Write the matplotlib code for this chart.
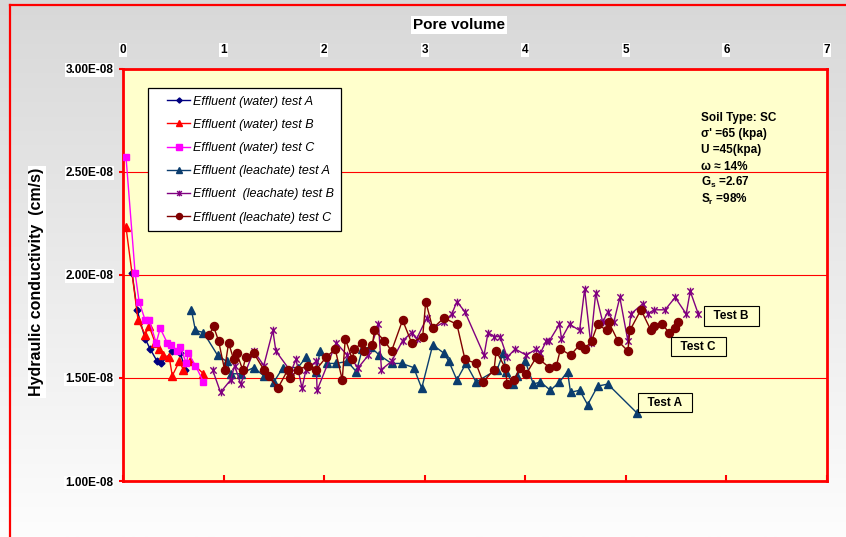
import numpy as np
import matplotlib
matplotlib.use('Agg')
import matplotlib.pyplot as plt
from matplotlib.path import Path
from matplotlib.lines import Line2D
from matplotlib.colors import LinearSegmentedColormap
from matplotlib.ticker import FuncFormatter
from matplotlib.font_manager import FontProperties
from matplotlib.legend_handler import HandlerLine2D

# ---------------- data (hydraulic conductivity in units of 1e-8 cm/s) ----------------
water_a_pv = [0.09, 0.14, 0.22, 0.27, 0.34, 0.38, 0.49, 0.57, 0.62]
water_a_k = [2.01, 1.83, 1.69, 1.64, 1.58, 1.57, 1.63, 1.62, 1.54]

water_b_pv = [0.03, 0.15, 0.22, 0.26, 0.32, 0.36, 0.40, 0.46, 0.49, 0.56, 0.60, 0.67, 0.80]
water_b_k = [2.23, 1.78, 1.71, 1.75, 1.67, 1.64, 1.61, 1.60, 1.51, 1.58, 1.54, 1.58, 1.52]

water_c_pv = [0.03, 0.12, 0.16, 0.22, 0.26, 0.33, 0.37, 0.44, 0.48, 0.54, 0.57, 0.63, 0.65, 0.72, 0.80]
water_c_k = [2.57, 2.01, 1.87, 1.78, 1.78, 1.67, 1.74, 1.67, 1.66, 1.63, 1.65, 1.57, 1.62, 1.56, 1.48]

leach_a_pv = [0.68, 0.72, 0.80, 0.94, 1.03, 1.07, 1.17, 1.30, 1.40, 1.50,
              1.59, 1.74, 1.82, 1.92, 1.96, 2.03, 2.12, 2.23, 2.32, 2.38,
              2.46, 2.55, 2.67, 2.77, 2.89, 2.97, 3.08, 3.19, 3.24, 3.32,
              3.41, 3.51, 3.72, 3.78, 3.81, 3.88, 3.92, 4.00, 4.08, 4.15,
              4.25, 4.34, 4.42, 4.45, 4.54, 4.62, 4.72, 4.82, 5.11]
leach_a_k = [1.83, 1.73, 1.72, 1.61, 1.58, 1.52, 1.52, 1.55, 1.51, 1.48,
             1.55, 1.55, 1.60, 1.53, 1.63, 1.57, 1.57, 1.58, 1.53, 1.64,
             1.65, 1.61, 1.57, 1.57, 1.55, 1.45, 1.66, 1.62, 1.58, 1.49,
             1.57, 1.48, 1.54, 1.62, 1.53, 1.47, 1.51, 1.58, 1.47, 1.48,
             1.44, 1.48, 1.53, 1.43, 1.44, 1.37, 1.46, 1.47, 1.33]

leach_b_pv = [0.89, 0.97, 1.07, 1.11, 1.17, 1.30, 1.40, 1.49, 1.52, 1.67,
              1.72, 1.78, 1.82, 1.92, 1.93, 2.12, 2.23, 2.34, 2.44, 2.54,
              2.57, 2.67, 2.78, 2.87, 2.92, 3.02, 3.08, 3.19, 3.27, 3.32,
              3.40, 3.59, 3.63, 3.69, 3.75, 3.82, 3.90, 4.01, 4.11, 4.15,
              4.21, 4.24, 4.34, 4.36, 4.44, 4.54, 4.59, 4.65, 4.70, 4.77,
              4.82, 4.88, 4.94, 5.02, 5.05, 5.17, 5.22, 5.28, 5.39, 5.49,
              5.60, 5.64, 5.72]
leach_b_k = [1.54, 1.43, 1.49, 1.56, 1.47, 1.63, 1.56, 1.73, 1.63, 1.53,
             1.59, 1.45, 1.54, 1.58, 1.44, 1.67, 1.61, 1.55, 1.61, 1.76,
             1.54, 1.58, 1.68, 1.72, 1.69, 1.79, 1.74, 1.77, 1.81, 1.87,
             1.82, 1.61, 1.72, 1.70, 1.70, 1.60, 1.64, 1.61, 1.64, 1.62,
             1.68, 1.68, 1.76, 1.69, 1.76, 1.73, 1.93, 1.67, 1.91, 1.77,
             1.82, 1.77, 1.89, 1.68, 1.81, 1.86, 1.81, 1.83, 1.83, 1.89,
             1.81, 1.92, 1.81]

leach_c_pv = [0.86, 0.90, 0.95, 1.01, 1.05, 1.10, 1.13, 1.19, 1.22, 1.30,
              1.40, 1.45, 1.54, 1.64, 1.66, 1.74, 1.84, 1.92, 2.02, 2.11,
              2.18, 2.21, 2.28, 2.30, 2.38, 2.40, 2.48, 2.50, 2.60, 2.67,
              2.78, 2.87, 2.98, 3.01, 3.08, 3.19, 3.32, 3.40, 3.51, 3.58,
              3.69, 3.71, 3.80, 3.82, 3.89, 3.95, 4.01, 4.11, 4.14, 4.24,
              4.31, 4.35, 4.45, 4.54, 4.59, 4.66, 4.72, 4.81, 4.83, 4.92,
              5.02, 5.04, 5.15, 5.25, 5.28, 5.36, 5.43, 5.49, 5.52]
leach_c_k = [1.71, 1.75, 1.68, 1.54, 1.67, 1.59, 1.62, 1.54, 1.60, 1.62,
             1.54, 1.51, 1.45, 1.54, 1.50, 1.54, 1.56, 1.54, 1.60, 1.64,
             1.49, 1.69, 1.59, 1.64, 1.67, 1.63, 1.66, 1.73, 1.68, 1.63,
             1.78, 1.67, 1.70, 1.87, 1.74, 1.79, 1.76, 1.59, 1.57, 1.48,
             1.54, 1.63, 1.55, 1.47, 1.49, 1.55, 1.52, 1.60, 1.59, 1.55,
             1.56, 1.64, 1.61, 1.66, 1.64, 1.68, 1.76, 1.73, 1.77, 1.68,
             1.63, 1.73, 1.83, 1.73, 1.75, 1.76, 1.72, 1.74, 1.77]

series_labels = ['Effluent (water) test A', 'Effluent (water) test B', 'Effluent (water) test C',
                 'Effluent (leachate) test A', 'Effluent  (leachate) test B', 'Effluent (leachate) test C']
x_ticks = [0, 1, 2, 3, 4, 5, 6, 7]
y_ticks = [1.0, 1.5, 2.0, 2.5, 3.0]
soil_info = ['Soil Type: SC', "σ' =65 (kpa)", 'U =45(kpa)', 'ω ≈ 14%',
             r'G$_{\mathbf{s}}$ =2.67', r'S$_{\mathbf{r}}$ =98%']
test_labels = [('Test B', 6.05, 1.80), ('Test C', 5.72, 1.65), ('Test A', 5.39, 1.38)]

SCALE = 1e-8

# ---------------- style ----------------
plt.rcParams['font.family'] = ['Liberation Sans', 'DejaVu Sans']
plt.rcParams['font.weight'] = 'bold'
plt.rcParams['mathtext.fontset'] = 'custom'
plt.rcParams['mathtext.rm'] = 'Liberation Sans:bold'
plt.rcParams['mathtext.bf'] = 'Liberation Sans:bold'
plt.rcParams['mathtext.it'] = 'Liberation Sans:bold'

W, H = 846, 537
fig = plt.figure(figsize=(W / 100, H / 100), dpi=100)

# background gradient
bg = fig.add_axes([0, 0, 1, 1], zorder=-10)
grad = np.linspace(0, 1, 256).reshape(-1, 1)
cmap = LinearSegmentedColormap.from_list('g', ['#d8d8d8', '#fdfdfd'])
bg.imshow(grad, aspect='auto', cmap=cmap, extent=[0, 1, 0, 1])
bg.set_axis_off()

# outer red frame (top and left visible)
fig.add_artist(Line2D([10 / W, 1.0], [1 - 5 / H, 1 - 5 / H], color='red', lw=1.6,
                      transform=fig.transFigure))
fig.add_artist(Line2D([10 / W, 10 / W], [0.0, 1 - 5 / H], color='red', lw=1.6,
                      transform=fig.transFigure))

ax = fig.add_axes([123 / W, 1 - 481 / H, (827 - 123) / W, (481 - 68.5) / H])
ax.set_facecolor('#FFFFCC')

star = Path([(-1, -1), (1, 1), (-1, 1), (1, -1), (0, -1.2), (0, 1.2)],
            [Path.MOVETO, Path.LINETO, Path.MOVETO, Path.LINETO, Path.MOVETO, Path.LINETO])

specs = [
    (water_a_pv, water_a_k, '#000080', 'D', 3.5),
    (water_b_pv, water_b_k, '#FF0000', '^', 5.5),
    (water_c_pv, water_c_k, '#FF00FF', 's', 5.0),
    (leach_a_pv, leach_a_k, '#0B3D6E', '^', 5.5),
    (leach_b_pv, leach_b_k, '#800080', star, 5.5),
    (leach_c_pv, leach_c_k, '#800000', 'o', 5.8),
]
for (xv, yv, col, mk, ms), lab in zip(specs, series_labels):
    ax.plot(xv, np.array(yv) * SCALE, color=col, lw=1.0, marker=mk, ms=ms,
            mfc=col, mec=col, mew=1.0, label=lab, zorder=3)

ax.set_xlim(0, 7)
ax.set_ylim(1.0 * SCALE, 3.0 * SCALE)
ax.set_xticks(x_ticks)
ax.set_yticks(np.array(y_ticks) * SCALE)
ax.yaxis.set_major_formatter(FuncFormatter(lambda v, p: f'{v:.2E}'))
ax.yaxis.grid(True, color='red', lw=0.8)
ax.set_axisbelow(True)

for s in ax.spines.values():
    s.set_color('red')
    s.set_linewidth(2.0)

ax.tick_params(axis='x', bottom=True, top=False, labelbottom=False, labeltop=True,
               direction='in', length=4, width=1.5, color='red', pad=9, labelsize=8.5)
ax.tick_params(axis='y', direction='out', length=3, width=1.5, color='red', pad=4, labelsize=8.5)

for t in ax.xaxis.get_major_ticks():
    t.label2.set_bbox(dict(facecolor='white', edgecolor='none', pad=0.6))
for t in ax.yaxis.get_major_ticks():
    t.label1.set_bbox(dict(facecolor='white', edgecolor='none', pad=0.6))

fig.text(459 / W, 1 - 25 / H, 'Pore volume', ha='center', va='center', fontsize=11,
         fontweight='bold', bbox=dict(facecolor='white', edgecolor='none', pad=1.5))
fig.text(37 / W, 1 - 282 / H, 'Hydraulic conductivity  (cm/s)', ha='center', va='center',
         rotation=90, fontsize=11.5, fontweight='bold',
         bbox=dict(facecolor='white', edgecolor='none', pad=1.0))

leg = ax.legend(loc='upper left', bbox_to_anchor=(148 / W, 1 - 88 / H),
                bbox_transform=fig.transFigure, borderaxespad=0,
                prop=FontProperties(family='Liberation Sans', style='italic', weight='normal', size=9),
                frameon=True, fancybox=False, edgecolor='black', facecolor='white', framealpha=1,
                handlelength=2.78, handletextpad=0.2, labelspacing=0.9, borderpad=0.6,
                markerscale=0.75, handler_map={Line2D: HandlerLine2D(xpad=0.94)})
leg.get_frame().set_linewidth(0.9)

y0 = 118
for i, txt in enumerate(soil_info):
    ax.text(701 / W, 1 - (y0 + i * 16.2) / H, txt, transform=fig.transFigure, fontsize=8.5,
            fontweight='bold', ha='left', va='center')

for txt, xv, yv in test_labels:
    ax.text(xv, yv * SCALE, '  ' + txt + '  ', ha='center', va='center', fontsize=8.5,
            fontweight='bold', zorder=5,
            bbox=dict(facecolor='#FFFFCC', edgecolor='black', lw=0.8, boxstyle='square,pad=0.3'))

fig.savefig('out.png', dpi=100)
